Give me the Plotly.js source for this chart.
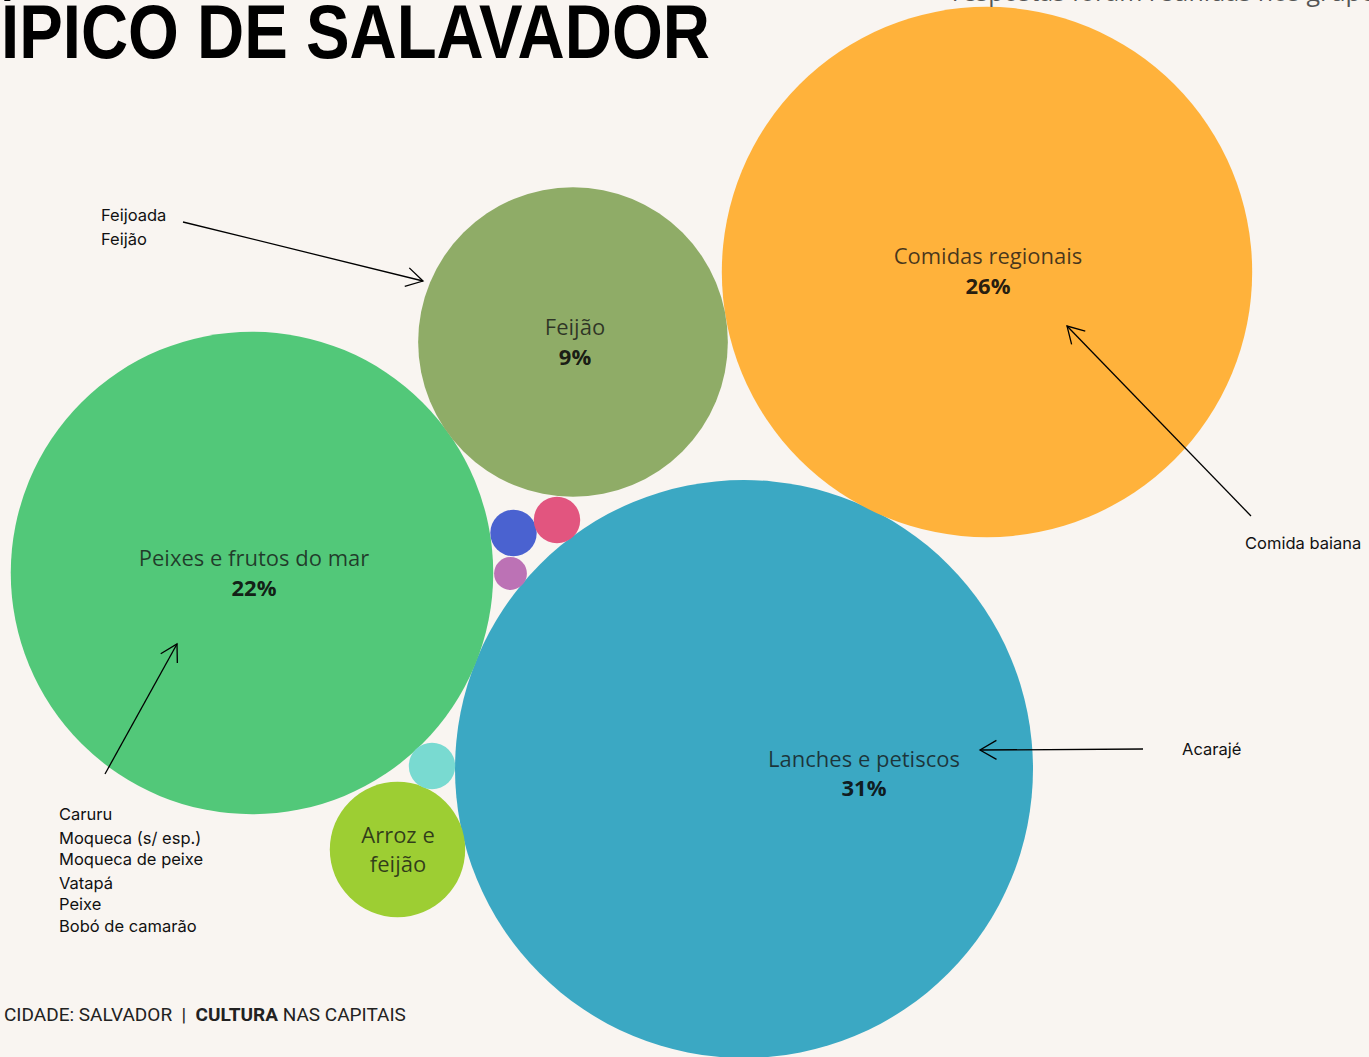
<!DOCTYPE html>
<html>
<head>
<meta charset="utf-8">
<script src="https://cdn.plot.ly/plotly-3.0.1.min.js"></script>
<style>
html,body{margin:0;padding:0;overflow:hidden;background:#F9F5F1;}
#chart{width:1369px;height:1057px;}
</style>
</head>
<body>
<div id="chart"></div>
<script>
// ---- data ----
const categories = ['Lanches e petiscos','Comidas regionais','Peixes e frutos do mar','Feijão','Arroz e feijão','Outro 1','Outro 2','Outro 3','Outro 4'];
const shares = [31.0, 26.1, 21.6, 8.9, 1.7, 0.2, 0.2, 0.2, 0.1];
const bubbleX = [744, 987, 252, 573, 397.5, 432, 513.5, 557, 510.5];
const bubbleY = [769, 272, 573, 342, 849.5, 766, 533, 520, 573.5];
const bubbleColors = ['#3BA8C3','#FFB23B','#52C879','#8FAC67','#9DCE33','#79DAD1','#4A62D0','#E2557F','#BC72B5'];

const labelNames = ['Lanches e petiscos','Comidas regionais','Peixes e frutos do mar','Feijão','Arroz e<br>feijão'];
const labelShowPct = [true, true, true, true, false];
const labelX = [864, 988, 254, 575, 398];
const nameY = [761, 258, 560, 329, 852];
const pctY = [790, 288, 590, 359, 852];

const noteTexts = ['Feijoada','Feijão','Comida baiana','Acarajé','Caruru','Moqueca (s/ esp.)','Moqueca de peixe','Vatapá','Peixe','Bobó de camarão'];
const noteX = [101, 101, 1245, 1182, 59, 59, 59, 59, 59, 59];
const noteY = [215, 239, 543, 749, 814, 838, 859, 883, 904, 926];

// arrows: [tailX, tailY, tipX, tipY]
const arrows = [
  [183, 222, 423, 281],
  [1251, 516, 1067, 326],
  [1143, 749, 980, 750],
  [105, 774, 177, 644]
];

const titleText = 'ÍPICO DE SALAVADOR';
const subtitleText = 'respostas foram reunidas nos grupos';
const footerText = 'CIDADE: SALVADOR  |  <b>CULTURA</b> NAS CAPITAIS';

// ---- build ----
const W = 1369, H = 1057;
const maxDiam = 578;
const sizeref = 2 * Math.max(...shares) / (maxDiam * maxDiam);
const px = v => v / W, py = v => 1 - v / H;

const bubbles = {
  type: 'scatter', mode: 'markers',
  x: bubbleX, y: bubbleY, text: categories,
  hoverinfo: 'skip', cliponaxis: false,
  marker: {size: shares, sizemode: 'area', sizeref: sizeref, color: bubbleColors, line: {width: 0}, opacity: 1}
};
const names = {
  type: 'scatter', mode: 'text',
  x: labelX, y: nameY, text: labelNames,
  textposition: 'middle center', hoverinfo: 'skip', cliponaxis: false,
  textfont: {family: 'Open Sans, Noto Sans, sans-serif', size: 22, color: 'rgba(20,20,20,0.78)'}
};
const pcts = {
  type: 'scatter', mode: 'text',
  x: labelX.filter((_, i) => labelShowPct[i]),
  y: pctY.filter((_, i) => labelShowPct[i]),
  text: shares.slice(0, labelX.length).filter((_, i) => labelShowPct[i]).map(v => '<b>' + Math.round(v) + '%</b>'),
  textposition: 'middle center', hoverinfo: 'skip', cliponaxis: false,
  textfont: {family: 'Open Sans, Noto Sans, sans-serif', size: 22, color: 'rgba(10,10,10,0.9)'}
};

const annotations = [];
noteTexts.forEach((t, i) => annotations.push({
  x: px(noteX[i] - 2), y: py(noteY[i]), xref: 'paper', yref: 'paper', text: t, showarrow: false,
  xanchor: 'left', yanchor: 'middle',
  font: {family: 'Inter, Noto Sans, sans-serif', size: 16.5, color: '#111'}
}));
annotations.push({
  x: px(-1), y: py(31), xref: 'paper', yref: 'paper', text: '<b>' + titleText + '</b>', showarrow: false,
  xanchor: 'left', yanchor: 'middle',
  font: {family: 'Liberation Sans, Arial, sans-serif', size: 76, color: '#000'}
});
annotations.push({
  x: px(950), y: py(-9), xref: 'paper', yref: 'paper', text: subtitleText, showarrow: false,
  xanchor: 'left', yanchor: 'middle',
  font: {family: 'Open Sans, Noto Sans, sans-serif', size: 25, color: '#555'}
});
annotations.push({
  x: px(2), y: py(1014), xref: 'paper', yref: 'paper', text: footerText, showarrow: false,
  xanchor: 'left', yanchor: 'middle',
  font: {family: 'Roboto, Liberation Sans, sans-serif', size: 19, color: '#222'}
});

const shapes = [];
const wingLen = 19, wingAng = 30 * Math.PI / 180;
arrows.forEach(a => {
  const [x0, y0, x1, y1] = a;
  shapes.push({type: 'line', xref: 'x', yref: 'y', x0: x0, y0: y0, x1: x1, y1: y1, line: {color: '#000', width: 1.3}});
  const ang = Math.atan2(y0 - y1, x0 - x1);
  const wx1 = x1 + wingLen * Math.cos(ang + wingAng), wy1 = y1 + wingLen * Math.sin(ang + wingAng);
  const wx2 = x1 + wingLen * Math.cos(ang - wingAng), wy2 = y1 + wingLen * Math.sin(ang - wingAng);
  shapes.push({type: 'path', xref: 'x', yref: 'y',
    path: `M${wx1},${wy1} L${x1},${y1} L${wx2},${wy2}`, line: {color: '#000', width: 1.3}});
});

const layout = {
  width: W, height: H,
  margin: {l: 0, r: 0, t: 0, b: 0, pad: 0},
  paper_bgcolor: '#F9F5F1', plot_bgcolor: '#F9F5F1',
  showlegend: false,
  xaxis: {range: [0, W], visible: false, fixedrange: true},
  yaxis: {range: [H, 0], visible: false, fixedrange: true},
  annotations: annotations,
  shapes: shapes
};

Plotly.newPlot('chart', [bubbles, names, pcts], layout, {displayModeBar: false, staticPlot: true}).then(() => {
  // condense the title horizontally (narrow headline face)
  const targetWidth = 709;
  document.querySelectorAll('.annotation-text').forEach(el => {
    if (el.textContent === titleText) {
      const bb = el.getBBox();
      const k = targetWidth / bb.width;
      el.setAttribute('transform', `translate(${bb.x * (1 - k)},0) scale(${k},1)`);
    }
  });
});
</script>
</body>
</html>
